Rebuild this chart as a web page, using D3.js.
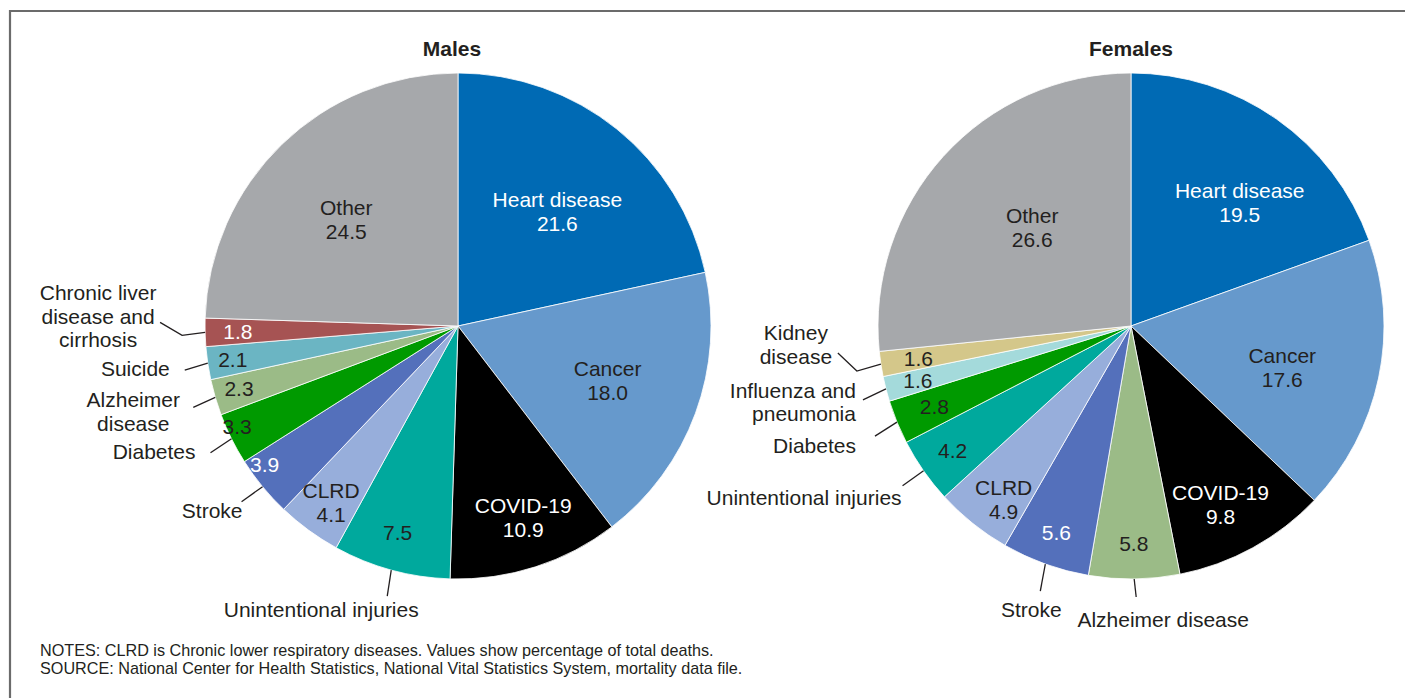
<!DOCTYPE html>
<meta charset="utf-8">
<style>

html,
body {
  margin: 0;
  overflow: hidden;
  background: #fff;
}

text {
  font-family: "Liberation Sans", Arial, sans-serif;
  fill: #231f20;
}

.slice {
  stroke: #fff;
  stroke-width: 0.8;
}

.leader {
  stroke: #231f20;
  stroke-width: 1.3;
  fill: none;
}

</style>
<body>
<script src="https://d3js.org/d3.v7.min.js"></script>
<script>

var width = 1405,
 height = 698,
 radius = 253,
 fontSize = 21;

// data (percent of total deaths)
var maleCauses = ["Heart disease", "Cancer", "COVID-19", "Unintentional injuries", "CLRD",
  "Stroke", "Diabetes", "Alzheimer disease", "Suicide", "Chronic liver disease and cirrhosis", "Other"];
var maleValues = [21.6, 18.0, 10.9, 7.5, 4.1, 3.9, 3.3, 2.3, 2.1, 1.8, 24.5];

var femaleCauses = ["Heart disease", "Cancer", "COVID-19", "Alzheimer disease", "Stroke", "CLRD",
  "Unintentional injuries", "Diabetes", "Influenza and pneumonia", "Kidney disease", "Other"];
var femaleValues = [19.5, 17.6, 9.8, 5.8, 5.6, 4.9, 4.2, 2.8, 1.6, 1.6, 26.6];

var notes = [
  "NOTES: CLRD is Chronic lower respiratory diseases. Values show percentage of total deaths.",
  "SOURCE: National Center for Health Statistics, National Vital Statistics System, mortality data file."
];

var colors = {
  "Heart disease": "#006ab4",
  "Cancer": "#6699cc",
  "COVID-19": "#000000",
  "Unintentional injuries": "#00a99d",
  "CLRD": "#97aedb",
  "Stroke": "#5470bb",
  "Diabetes": "#009a00",
  "Alzheimer disease": "#9bbb87",
  "Suicide": "#6bb5c3",
  "Chronic liver disease and cirrhosis": "#a65353",
  "Influenza and pneumonia": "#a4dadb",
  "Kidney disease": "#d4c78a",
  "Other": "#a6a8ab"
};

var whiteText = ["Heart disease", "COVID-19", "Stroke", "Chronic liver disease and cirrhosis"];

// label layout: inside labels (r = fraction of radius, a = angle nudge in degrees),
// outside names with leader lines (offsets from the arc edge)
var maleLayout = {
  "Heart disease": { r: 0.6, a: 2, name: true },
  "Cancer": { r: 0.63, a: 0, name: true },
  "COVID-19": { r: 0.8, a: -1, name: true },
  "Unintentional injuries": { r: 0.85, a: 1, out: { pts: [[-4, 26]], dx: -66, dy: 21, anchor: "middle", lines: ["Unintentional injuries"] } },
  "CLRD": { r: 0.86, a: -0.5, name: true },
  "Stroke": { r: 0.94, a: 3.8, out: { pts: [[-21, 15]], dx: 1, dy: 16, anchor: "end", lines: ["Stroke"] } },
  "Diabetes": { r: 0.96, a: 1.9, out: { pts: [[-21, 14]], dx: -15, dy: 6, anchor: "end", lines: ["Diabetes"] } },
  "Alzheimer disease": { r: 0.9, a: 0.5, out: { pts: [[-22, 10]], dx: -60, dy: 0, anchor: "middle", lines: ["Alzheimer", "disease"] } },
  "Suicide": { r: 0.9, a: 0, out: { pts: [[-23, 7]], dx: -15, dy: 6, anchor: "end", lines: ["Suicide"] } },
  "Chronic liver disease and cirrhosis": { r: 0.87, a: 0, out: { pts: [[-23, 3], [-45, -10]], dx: -62, dy: -22, anchor: "middle", lines: ["Chronic liver", "disease and", "cirrhosis"] } },
  "Other": { r: 0.61, a: -2.3, name: true }
};

var femaleLayout = {
  "Heart disease": { r: 0.65, a: 6.3, name: true },
  "Cancer": { r: 0.62, a: 3.5, name: true },
  "COVID-19": { r: 0.79, a: 2.2, name: true },
  "Alzheimer disease": { r: 0.86, a: 0, out: { pts: [[2, 18]], dx: 27, dy: 30, anchor: "middle", lines: ["Alzheimer disease"] } },
  "Stroke": { r: 0.87, a: 0, out: { pts: [[-5, 27]], dx: -9, dy: 26, anchor: "middle", lines: ["Stroke"] } },
  "CLRD": { r: 0.85, a: -2.4, name: true },
  "Unintentional injuries": { r: 0.86, a: 0, out: { pts: [[-21, 15]], dx: -1, dy: 19, anchor: "end", lines: ["Unintentional injuries"] } },
  "Diabetes": { r: 0.84, a: 0, out: { pts: [[-22, 14]], dx: -19, dy: 17, anchor: "end", lines: ["Diabetes"] } },
  "Influenza and pneumonia": { r: 0.87, a: 0, out: { pts: [[-23, 11]], dx: -7, dy: -2, anchor: "end", lines: ["Influenza and", "pneumonia"] } },
  "Kidney disease": { r: 0.85, a: 0, out: { pts: [[-24, 7], [-43, -11]], dx: -42, dy: -13, anchor: "middle", lines: ["Kidney", "disease"] } },
  "Other": { r: 0.55, a: 2.6, name: true }
};

var svg = d3.select("body")
  .append("svg")
  .attr("width", width)
  .attr("height", height);

// frame: top and left rule
svg.append("path")
  .attr("d", "M10," + (height + 5) + "V11H" + (width + 5))
  .attr("fill", "none")
  .attr("stroke", "#6b6b6b")
  .attr("stroke-width", 2.2);

var pie = d3.pie().sort(null).value(function(d) { return d.value; });
var arc = d3.arc().innerRadius(0).outerRadius(radius);

function drawPie(title, cx, titleDx, causes, values, layout) {
  var data = causes.map(function(c, i) { return { cause: c, value: values[i] }; });
  var g = svg.append("g").attr("transform", "translate(" + cx + ",326)");

  svg.append("text")
    .attr("x", cx + titleDx)
    .attr("y", 56)
    .attr("text-anchor", "middle")
    .attr("font-size", fontSize)
    .attr("font-weight", "bold")
    .text(title);

  var arcs = pie(data);

  g.selectAll(".slice")
    .data(arcs)
    .enter().append("path")
    .attr("class", "slice")
    .attr("d", arc)
    .attr("fill", function(d) { return colors[d.data.cause]; });

  arcs.forEach(function(d) {
    var lay = layout[d.data.cause];
    var mid = (d.startAngle + d.endAngle) / 2;
    var la = mid + lay.a * Math.PI / 180,
      lr = radius * lay.r;
    var c = [Math.sin(la) * lr, -Math.cos(la) * lr];
    var lines = lay.name ? [d.data.cause, d.data.value.toFixed(1)] : [d.data.value.toFixed(1)];
    var fill = whiteText.indexOf(d.data.cause) >= 0 ? "#fff" : "#231f20";
    var t = g.append("text")
      .attr("text-anchor", "middle")
      .attr("font-size", fontSize)
      .style("fill", fill);
    lines.forEach(function(l, i) {
      t.append("tspan")
        .attr("x", c[0])
        .attr("y", c[1] + (i - (lines.length - 1) / 2) * 24)
        .attr("dy", "0.35em")
        .text(l);
    });

    if (lay.out) {
      var p0 = [Math.sin(mid) * radius, -Math.cos(mid) * radius];
      var pts = [p0].concat(lay.out.pts.map(function(o) { return [p0[0] + o[0], p0[1] + o[1]]; }));
      g.append("path")
        .attr("class", "leader")
        .attr("d", d3.line()(pts));
      var end = pts[pts.length - 1];
      var ot = g.append("text")
        .attr("text-anchor", lay.out.anchor)
        .attr("font-size", fontSize);
      lay.out.lines.forEach(function(l, i) {
        ot.append("tspan")
          .attr("x", end[0] + lay.out.dx)
          .attr("y", end[1] + lay.out.dy + i * 23.5)
          .text(l);
      });
    }
  });
}

drawPie("Males", 458, -6, maleCauses, maleValues, maleLayout);
drawPie("Females", 1131, 0, femaleCauses, femaleValues, femaleLayout);

svg.selectAll(".note")
  .data(notes)
  .enter().append("text")
  .attr("class", "note")
  .attr("x", 40)
  .attr("y", function(d, i) { return 656 + i * 18; })
  .attr("font-size", 16.2)
  .text(function(d) { return d; });

</script>
